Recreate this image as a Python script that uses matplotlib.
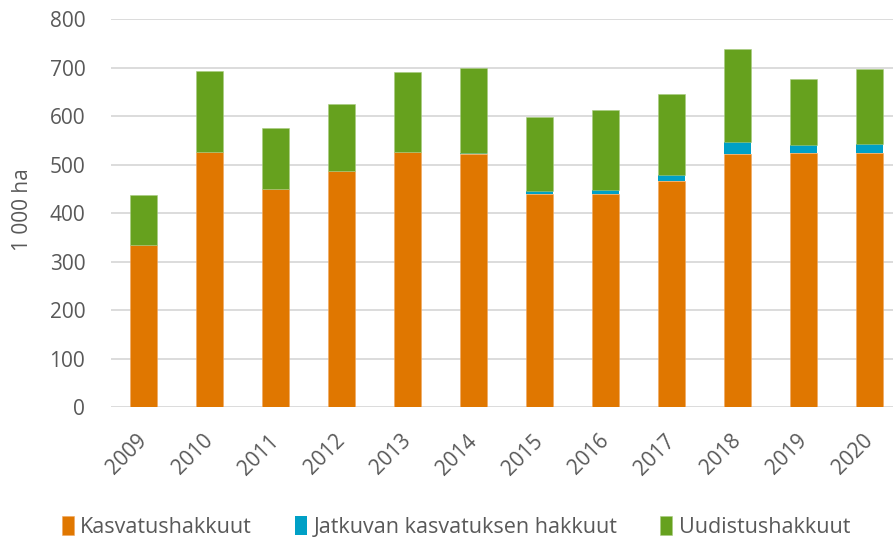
import numpy as np
import matplotlib
matplotlib.use('Agg')
import matplotlib.pyplot as plt

years = ['2009', '2010', '2011', '2012', '2013', '2014',
         '2015', '2016', '2017', '2018', '2019', '2020']
kasvatus = [334, 527, 450, 487, 527, 522, 440, 440, 467, 522, 524, 524]
jatkuva = [0, 0, 0, 0, 0, 2, 5, 9, 11, 26, 16, 19]
uudistus = [103, 167, 125, 138, 164, 176, 154, 163, 169, 191, 137, 154]

labels = ['Kasvatushakkuut', 'Jatkuvan kasvatuksen hakkuut', 'Uudistushakkuut']
colors = ['#E07700', '#00A0C6', '#66A11E']
TEXT = '#595959'
GRID = '#D9D9D9'

plt.rcParams['font.family'] = ['Open Sans', 'DejaVu Sans']

fig = plt.figure(figsize=(8.93, 5.39), dpi=100)
ax = fig.add_axes([111 / 893, 1 - 407.3 / 539, (893 - 111) / 893, (407.3 - 19.3) / 539])

x = np.arange(len(years))
w = 0.41
k = np.array(kasvatus)
j = np.array(jatkuva)
u = np.array(uudistus)
ax.bar(x, k, w, color=colors[0], edgecolor='#F0A860', linewidth=0.4, label=labels[0], zorder=3)
ax.bar(x, j, w, bottom=k, color=colors[1], linewidth=0, label=labels[1], zorder=3)
ax.bar(x, u, w, bottom=k + j, color=colors[2], edgecolor='#A8CC80', linewidth=0.4, label=labels[2], zorder=3)

ax.set_ylim(0, 800)
ax.set_xlim(-0.5, -0.5 + (893 - 111) / 65.95)
ax.set_yticks(range(0, 801, 100))
ax.set_xticks(x)
ax.set_xticklabels(years, rotation=45, ha='right', va='center', rotation_mode='anchor')
ax.yaxis.grid(True, color=GRID, linewidth=1.3, zorder=0)
for s in ax.spines.values():
    s.set_visible(False)
ax.tick_params(axis='both', length=0, colors=TEXT, labelsize=15)
ax.tick_params(axis='y', pad=18.5)
ax.tick_params(axis='x', pad=22)
ax.set_ylabel('1 000 ha', color=TEXT, fontsize=15)
ax.yaxis.set_label_coords(-78 / (893 - 111), (407.3 - 210) / 388)

leg = fig.legend(loc='center', bbox_to_anchor=(456 / 893, 1 - 527 / 539), ncol=3, frameon=False,
                 fontsize=15.5, handlelength=0.55, handleheight=1.0, handletextpad=0.3,
                 columnspacing=2.0, labelcolor=TEXT)

fig.savefig('out.png', dpi=100)
